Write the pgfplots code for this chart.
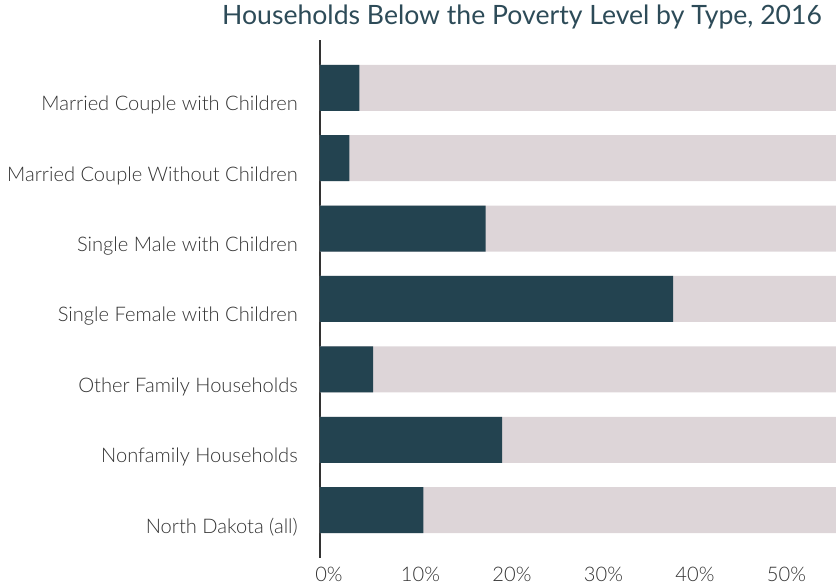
\documentclass[border=0pt]{standalone}
\usepackage{pgfplots}
\pgfplotsset{compat=1.18}
\usepackage{fontspec}
\setmainfont{Lato}[UprightFont=* Light]
\newfontfamily\titlefont{Lato}
\definecolor{barc}{HTML}{234350}
\definecolor{bgc}{HTML}{DDD5D8}
\definecolor{titlec}{HTML}{2D4B58}
\definecolor{labc}{HTML}{333333}
\begin{document}
\begin{tikzpicture}
\path[use as bounding box] (0,0) rectangle (836pt,586pt);
\begin{axis}[
  at={(320pt,28pt)}, anchor=south west,
  scale only axis, width=516pt, height=518pt,
  xmin=0, xmax=56.4, ymin=-0.68, ymax=6.68,
  xbar, bar width=46pt, bar shift=0pt,
  axis lines*=left,
  x axis line style={draw=none},
  y axis line style={draw=black!80, line width=1.1pt},
  major tick length=0pt,
  xtick={0,10,20,30,40,50},
  xticklabels={0\%,10\%,20\%,30\%,40\%,50\%},
  ytick={0,1,2,3,4,5,6},
  yticklabels={North Dakota (all),Nonfamily Households,Other Family Households,Single Female with Children,Single Male with Children,Married Couple Without Children,Married Couple with Children},
  yticklabel style={anchor=base east, inner sep=0pt, xshift=-22pt, yshift=-23pt, font=\fontsize{20.1}{22}\selectfont, text=labc},
  xticklabel style={anchor=base, inner sep=0pt, xshift=9pt, yshift=-24pt, font=\fontsize{20.1}{22}\selectfont, text=labc},
  /pgf/number format/assume math mode=true,
  clip=true,
]
\addplot[fill=bgc, draw=none] coordinates {(100,0) (100,1) (100,2) (100,3) (100,4) (100,5) (100,6)};
\addplot[fill=barc, draw=none] coordinates {(11.3,0) (19.9,1) (5.8,2) (38.6,3) (18.1,4) (3.2,5) (4.3,6)};
\end{axis}
\node[anchor=base, inner sep=0pt, text=titlec, font=\titlefont\fontsize{26.6}{30}\selectfont] at (522pt,561pt) {Households Below the Poverty Level by Type, 2016};
\end{tikzpicture}
\end{document}
